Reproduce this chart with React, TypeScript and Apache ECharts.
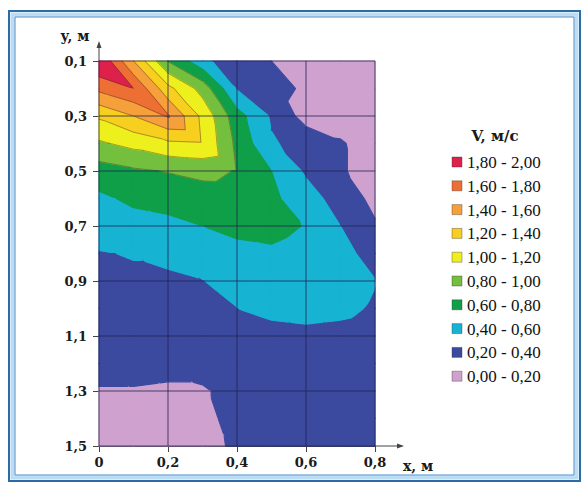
import React, { useEffect, useRef } from 'react';
import * as echarts from 'echarts';

// Measurement nodes (m)
const xNodes = [0, 0.1, 0.2, 0.3, 0.4, 0.5, 0.6, 0.7, 0.8];
const yNodes = [0.1, 0.2, 0.3, 0.4, 0.5, 0.6, 0.7, 0.8, 0.9, 1.0, 1.1, 1.2, 1.3, 1.4, 1.5];

// Velocity V (m/s) at each node, one row per y level, columns follow xNodes
const vAtY010 = [2.0, 1.4, 0.79, 0.47, 0.22, 0.2, 0.1, 0.1, 0.1];
const vAtY020 = [1.65, 1.8, 1.26, 0.92, 0.385, 0.27, 0.17, 0.1, 0.1];
const vAtY030 = [1.23, 1.4, 1.62, 1.15, 0.68, 0.375, 0.12, 0.1, 0.1];
const vAtY040 = [0.97, 1.06, 1.16, 1.18, 0.75, 0.42, 0.33, 0.22, 0.1];
const vAtY050 = [0.71, 0.77, 0.81, 0.85, 0.79, 0.6, 0.37, 0.22, 0.12];
const vAtY060 = [0.56, 0.64, 0.67, 0.71, 0.72, 0.64, 0.49, 0.31, 0.15];
const vAtY070 = [0.48, 0.52, 0.55, 0.6, 0.64, 0.66, 0.59, 0.4, 0.22];
const vAtY080 = [0.39, 0.41, 0.44, 0.5, 0.555, 0.57, 0.52, 0.45, 0.34];
const vAtY090 = [0.37, 0.37, 0.37, 0.395, 0.47, 0.5, 0.48, 0.46, 0.405];
const vAtY100 = [0.34, 0.34, 0.33, 0.35, 0.4, 0.43, 0.44, 0.43, 0.385];
const vAtY110 = [0.3, 0.3, 0.29, 0.31, 0.34, 0.36, 0.37, 0.36, 0.34];
const vAtY120 = [0.25, 0.25, 0.24, 0.27, 0.3, 0.32, 0.33, 0.32, 0.31];
const vAtY130 = [0.19, 0.19, 0.18, 0.18, 0.26, 0.29, 0.3, 0.3, 0.3];
const vAtY140 = [0.13, 0.13, 0.13, 0.15, 0.26, 0.28, 0.29, 0.29, 0.29];
const vAtY150 = [0.1, 0.1, 0.1, 0.14, 0.23, 0.27, 0.28, 0.28, 0.28];

const velocityRows = [
  vAtY010, vAtY020, vAtY030, vAtY040, vAtY050, vAtY060, vAtY070, vAtY080,
  vAtY090, vAtY100, vAtY110, vAtY120, vAtY130, vAtY140, vAtY150,
];

// Contour bands
const levels = [0, 0.2, 0.4, 0.6, 0.8, 1.0, 1.2, 1.4, 1.6, 1.8, 2.0];
const bandColors = [
  '#cfa1cf', '#3b4a9f', '#17b3d3', '#0f9f48', '#74bf3e',
  '#eef01e', '#f7cf1f', '#f5a03a', '#ee6f33', '#de214b',
];
const bandLabels = [
  '0,00 - 0,20', '0,20 - 0,40', '0,40 - 0,60', '0,60 - 0,80', '0,80 - 1,00',
  '1,00 - 1,20', '1,20 - 1,40', '1,40 - 1,60', '1,60 - 1,80', '1,80 - 2,00',
];
const lineLevels = [0.8, 1.0, 1.2, 1.4, 1.6, 1.8];

const xTicks = [0, 0.2, 0.4, 0.6, 0.8];
const yTicks = [0.1, 0.3, 0.5, 0.7, 0.9, 1.1, 1.3, 1.5];

const GRID = { left: 99, top: 61, width: 276, height: 385 };

type P = [number, number, number];

function buildTriangles(): P[][] {
  const tris: P[][] = [];
  for (let j = 0; j < yNodes.length - 1; j++) {
    for (let i = 0; i < xNodes.length - 1; i++) {
      const A: P = [xNodes[i], yNodes[j], velocityRows[j][i]];
      const B: P = [xNodes[i + 1], yNodes[j], velocityRows[j][i + 1]];
      const C: P = [xNodes[i + 1], yNodes[j + 1], velocityRows[j + 1][i + 1]];
      const D: P = [xNodes[i], yNodes[j + 1], velocityRows[j + 1][i]];
      tris.push([A, B, C], [A, C, D]);
    }
  }
  return tris;
}

function clip(poly: P[], level: number, keepAbove: boolean): P[] {
  const out: P[] = [];
  const inside = (p: P) => (keepAbove ? p[2] >= level : p[2] <= level);
  for (let i = 0; i < poly.length; i++) {
    const a = poly[i];
    const b = poly[(i + 1) % poly.length];
    const ia = inside(a);
    const ib = inside(b);
    if (ia) out.push(a);
    if (ia !== ib) {
      const t = (level - a[2]) / (b[2] - a[2]);
      out.push([a[0] + t * (b[0] - a[0]), a[1] + t * (b[1] - a[1]), level]);
    }
  }
  return out;
}

function levelSegment(tri: P[], L: number): [number, number][] | null {
  const pts: [number, number][] = [];
  for (let k = 0; k < 3; k++) {
    const a = tri[k];
    const b = tri[(k + 1) % 3];
    const da = a[2] - L;
    const db = b[2] - L;
    if ((da < 0 && db >= 0) || (da >= 0 && db < 0)) {
      const t = da / (da - db);
      pts.push([a[0] + t * (b[0] - a[0]), a[1] + t * (b[1] - a[1])]);
    }
  }
  return pts.length === 2 ? pts : null;
}

const fmt = (v: number) => (v === 0 ? '0' : v.toFixed(1).replace('.', ','));

export default function App() {
  const ref = useRef<HTMLDivElement>(null);

  useEffect(() => {
    if (!ref.current) return;
    const chart = echarts.init(ref.current, undefined, { renderer: 'svg' });

    const tris = buildTriangles();
    const nb = levels.length - 1;
    const polys: { band: number; pts: P[] }[] = [];
    tris.forEach((tri) => {
      for (let k = 0; k < nb; k++) {
        let poly: P[] = tri;
        if (k > 0) poly = clip(poly, levels[k], true);
        if (poly.length >= 3 && k < nb - 1) poly = clip(poly, levels[k + 1], false);
        if (poly.length >= 3) polys.push({ band: k, pts: poly });
      }
    });
    const segs: [number, number][][] = [];
    tris.forEach((tri) => {
      lineLevels.forEach((L) => {
        const s = levelSegment(tri, L);
        if (s) segs.push(s);
      });
    });

    const xMin = xNodes[0];
    const xMax = xNodes[xNodes.length - 1];
    const yMin = yNodes[0];
    const yMax = yNodes[yNodes.length - 1];
    const gridLines: [number, number][][] = [
      ...xTicks.map((x) => [[x, yMin], [x, yMax]] as [number, number][]),
      ...yTicks.map((y) => [[xMin, y], [xMax, y]] as [number, number][]),
    ];

    const axisFont = { fontFamily: '"DejaVu Serif"', fontWeight: 'bold' as const, fontSize: 13, color: '#1a1a1a' };
    const axisLineStyle = { color: '#444', width: 1 };

    const gl = GRID.left;
    const gt = GRID.top;
    const gb = GRID.top + GRID.height;
    const gr = GRID.left + GRID.width;

    const legendGraphics: any[] = [];
    for (let k = nb - 1; k >= 0; k--) {
      const r = nb - 1 - k;
      const cy = 162 + r * 23.8;
      legendGraphics.push({
        type: 'rect',
        shape: { x: 452, y: cy - 5, width: 10, height: 10 },
        style: { fill: bandColors[k], stroke: 'rgba(60,40,40,0.45)', lineWidth: 0.8 },
      });
      legendGraphics.push({
        type: 'text',
        x: 467,
        y: cy + 0.5,
        style: {
          text: bandLabels[k],
          font: '17px "Liberation Serif"',
          fill: '#111',
          align: 'left',
          verticalAlign: 'middle',
        },
      });
    }

    chart.setOption({
      animation: false,
      backgroundColor: '#ffffff',
      grid: { left: GRID.left, top: GRID.top, width: GRID.width, height: GRID.height, containLabel: false },
      xAxis: {
        type: 'value',
        min: xMin,
        max: xMax,
        interval: 0.2,
        position: 'bottom',
        axisLine: { show: true, onZero: false, lineStyle: axisLineStyle },
        axisTick: { show: true, length: 6, lineStyle: axisLineStyle },
        axisLabel: { ...axisFont, margin: 10, formatter: (v: number) => fmt(v) },
        splitLine: { show: false },
      },
      yAxis: {
        type: 'value',
        inverse: true,
        min: yMin,
        max: yMax,
        position: 'left',
        axisLine: { show: true, onZero: false, lineStyle: axisLineStyle },
        axisTick: { show: true, length: 6, customValues: yTicks, lineStyle: axisLineStyle },
        axisLabel: { ...axisFont, margin: 12, customValues: yTicks, formatter: (v: number) => fmt(v) },
        splitLine: { show: false },
      },
      series: [
        {
          type: 'custom',
          name: 'bands',
          silent: true,
          coordinateSystem: 'cartesian2d',
          data: polys.map((p) => [p.pts[0][0], p.pts[0][1]]),
          renderItem: (params: any, api: any) => {
            const p = polys[params.dataIndex];
            const points = p.pts.map((q) => api.coord([q[0], q[1]]));
            const c = bandColors[p.band];
            return {
              type: 'polygon',
              shape: { points },
              style: { fill: c, stroke: c, lineWidth: 1.1, lineJoin: 'round' },
            };
          },
        },
        {
          type: 'custom',
          name: 'isolines',
          silent: true,
          coordinateSystem: 'cartesian2d',
          data: segs.map((s) => [s[0][0], s[0][1]]),
          renderItem: (params: any, api: any) => {
            const s = segs[params.dataIndex];
            const a = api.coord(s[0]);
            const b = api.coord(s[1]);
            return {
              type: 'line',
              shape: { x1: a[0], y1: a[1], x2: b[0], y2: b[1] },
              style: { stroke: 'rgba(70,50,30,0.6)', lineWidth: 0.7 },
            };
          },
        },
        {
          type: 'custom',
          name: 'grid',
          silent: true,
          coordinateSystem: 'cartesian2d',
          data: gridLines.map((g) => [g[0][0], g[0][1]]),
          renderItem: (params: any, api: any) => {
            const g = gridLines[params.dataIndex];
            const a = api.coord(g[0]);
            const b = api.coord(g[1]);
            return {
              type: 'line',
              shape: { x1: a[0], y1: a[1], x2: b[0], y2: b[1] },
              style: { stroke: 'rgba(35,35,80,0.8)', lineWidth: 1 },
            };
          },
        },
      ],
      graphic: [
        // frame
        { type: 'rect', shape: { x: 9, y: 11, width: 571, height: 470 }, style: { fill: 'none', stroke: '#2c6aa8', lineWidth: 2 } },
        { type: 'rect', shape: { x: 12.5, y: 14.5, width: 564, height: 463 }, style: { fill: 'none', stroke: '#bcdcf3', lineWidth: 4 } },
        { type: 'rect', shape: { x: 15, y: 17, width: 559, height: 458 }, style: { fill: 'none', stroke: '#4a8bcb', lineWidth: 1 } },
        // axis extensions with arrows
        { type: 'line', shape: { x1: gr, y1: gb, x2: 402, y2: gb }, style: { stroke: '#444', lineWidth: 1 } },
        { type: 'polygon', shape: { points: [[404, gb], [397, gb - 2.5], [397, gb + 2.5]] }, style: { fill: '#444' } },
        { type: 'line', shape: { x1: gl, y1: gt, x2: gl, y2: 43 }, style: { stroke: '#444', lineWidth: 1 } },
        { type: 'polygon', shape: { points: [[gl, 41], [gl - 2.5, 48], [gl + 2.5, 48]] }, style: { fill: '#444' } },
        // axis names
        { type: 'text', x: 75, y: 36, style: { text: 'y, м', font: 'bold 14px "DejaVu Serif"', fill: '#1a1a1a', align: 'center', verticalAlign: 'middle' } },
        { type: 'text', x: 418, y: 466, style: { text: 'x, м', font: 'bold 14px "DejaVu Serif"', fill: '#1a1a1a', align: 'center', verticalAlign: 'middle' } },
        // legend
        { type: 'text', x: 495, y: 136, style: { text: 'V, м/с', font: 'bold 15px "DejaVu Serif"', fill: '#1a1a1a', align: 'center', verticalAlign: 'middle' } },
        ...legendGraphics,
      ],
    });

    return () => chart.dispose();
  }, []);

  return (
    <div
      ref={ref}
      style={{ position: 'fixed', left: 0, top: 0, width: 582, height: 482, background: '#fff' }}
    />
  );
}
